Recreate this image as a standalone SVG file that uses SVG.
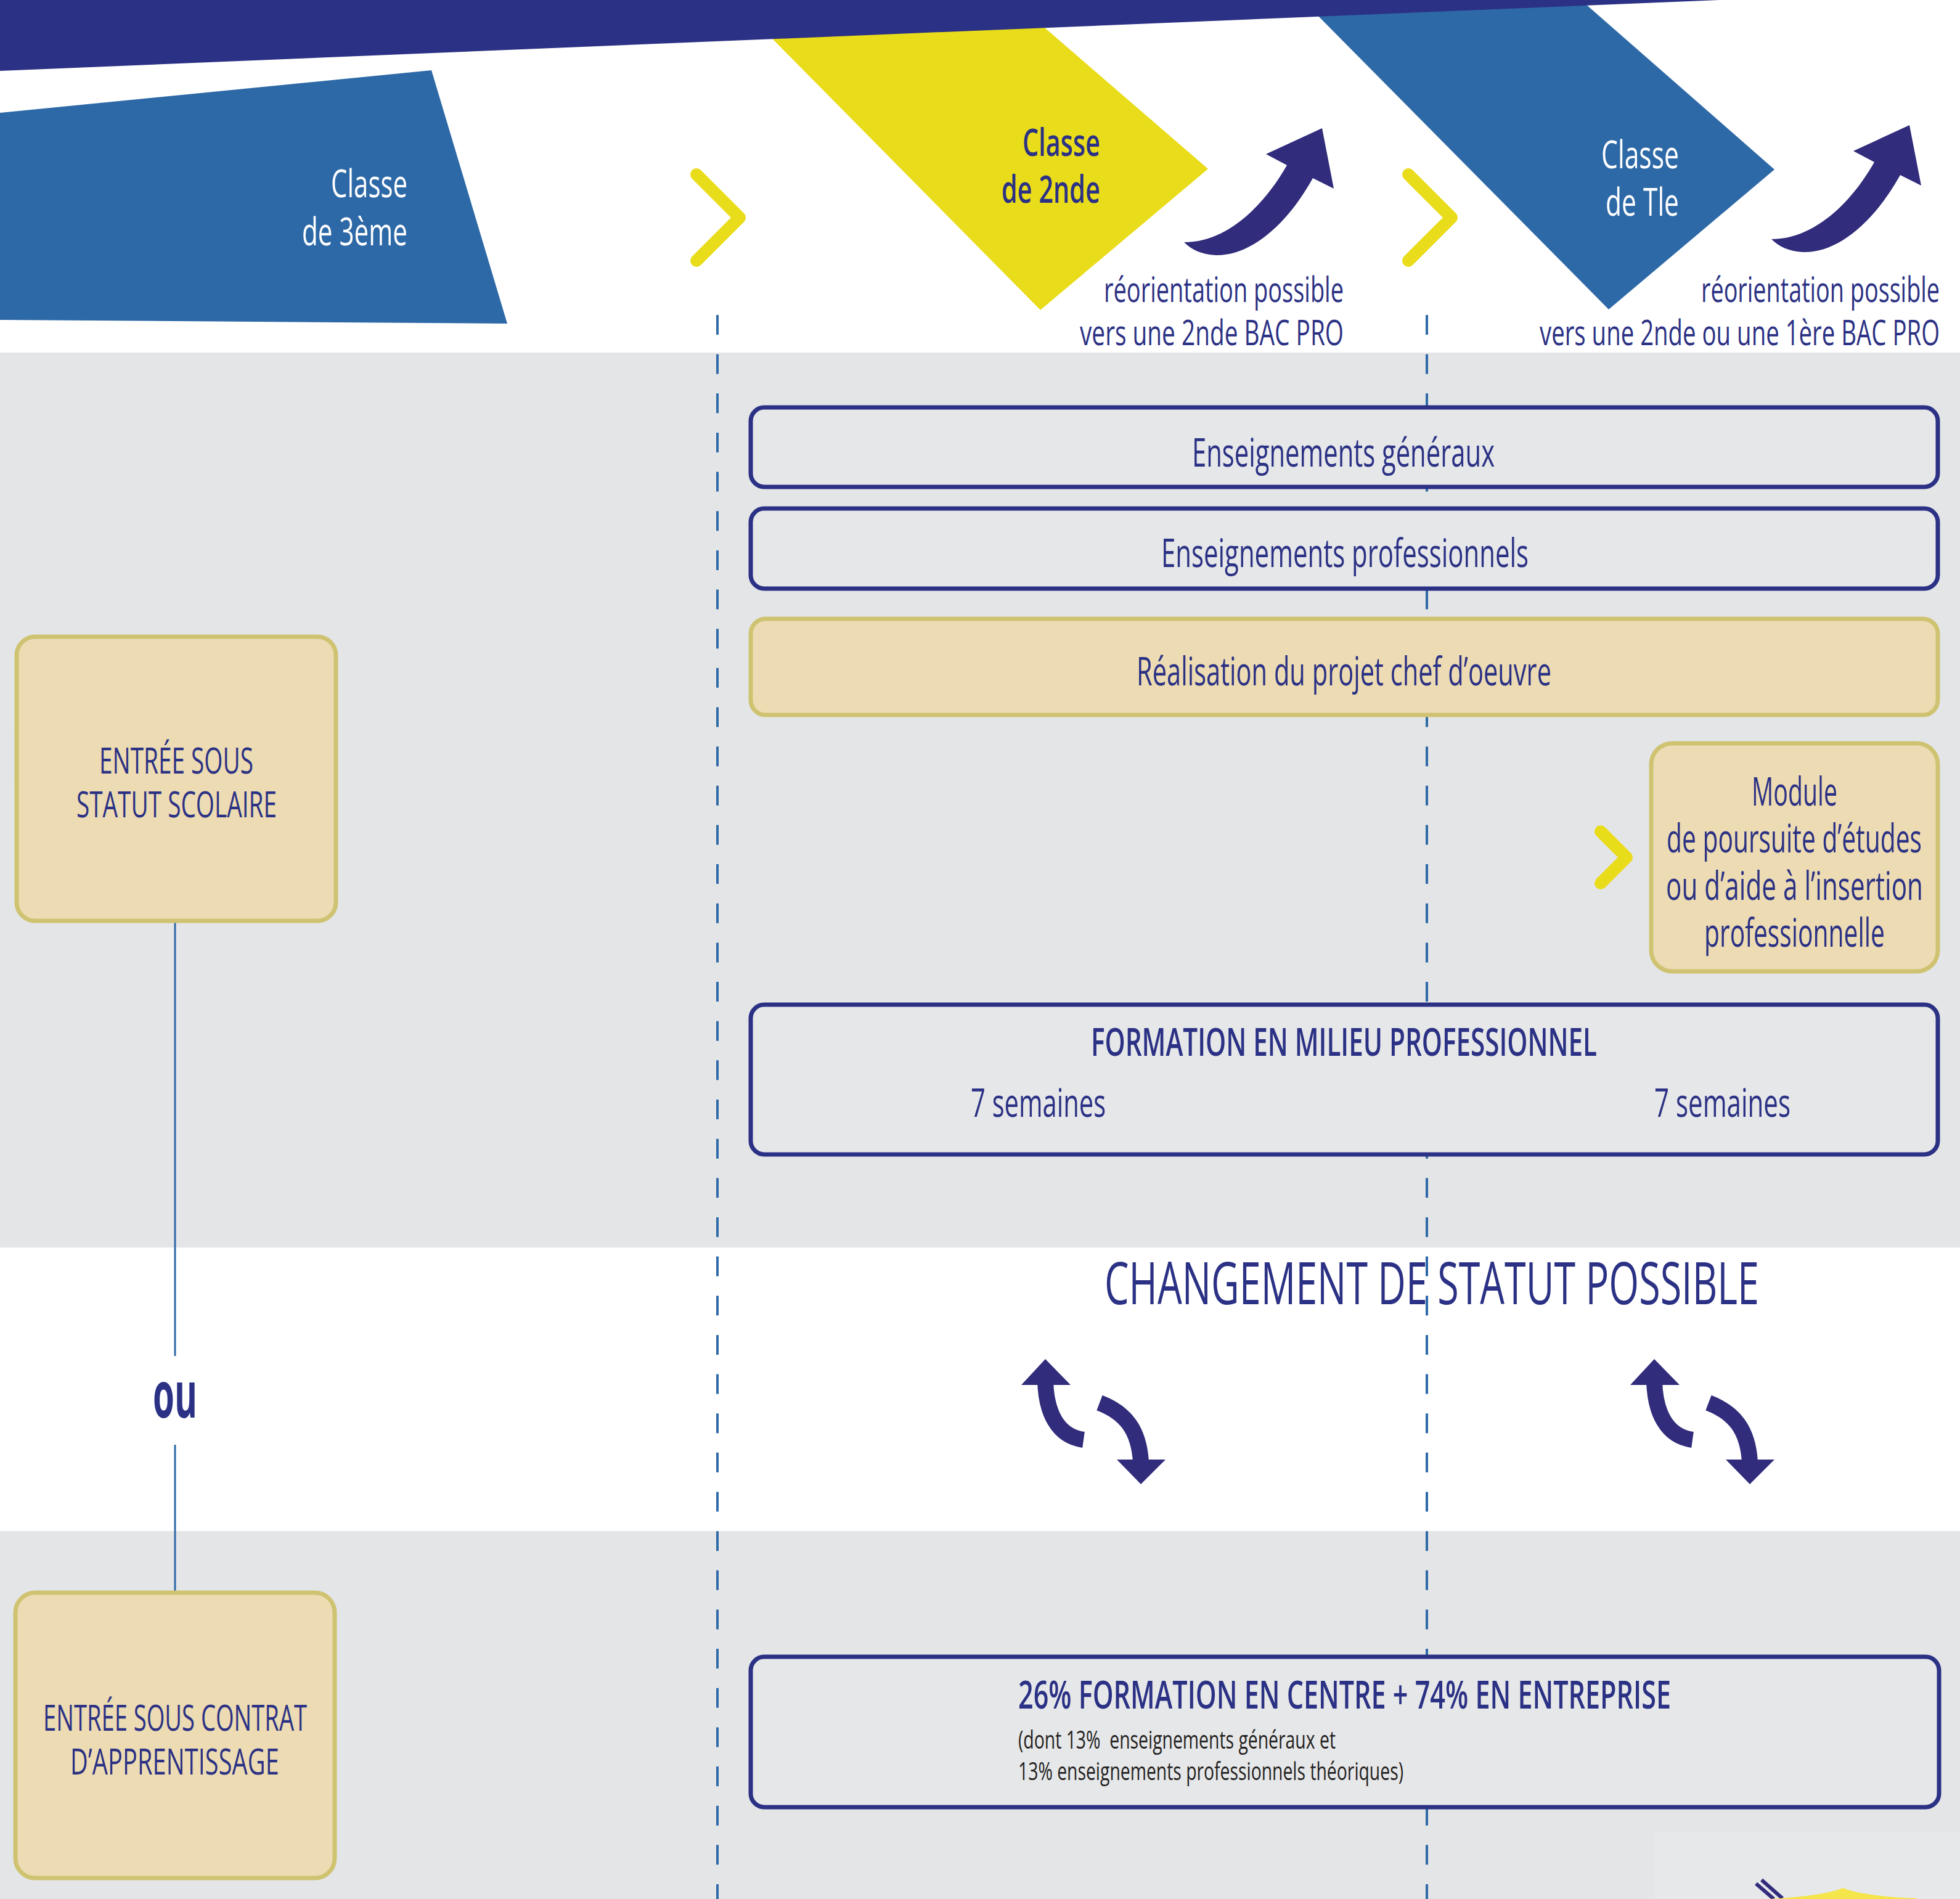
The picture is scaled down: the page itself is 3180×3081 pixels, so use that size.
<svg xmlns="http://www.w3.org/2000/svg" width="3180" height="3081" viewBox="0 0 3180 3081">
<style>
.t{font-family:"Open Sans","Liberation Sans",sans-serif;fill:#2b3184;}
.w{fill:#ffffff;}
.b{font-weight:600;}
.box{fill:#e6e7e9;stroke:#2b3184;stroke-width:7;}
.tan{fill:#ecdbb3;stroke:#cfc372;stroke-width:7;}
.chev{fill:none;stroke:#e9dc1b;stroke-width:20;stroke-linecap:round;stroke-linejoin:round;}
.dash{stroke:#2e6aa8;stroke-width:4;stroke-dasharray:32 31.65;fill:none;}
.arr{fill:#312c7b;}
.stem{fill:none;stroke:#312c7b;stroke-width:26;}
</style>
<defs>
<path id="bigArrow" d="M1921,393 C1990,393 2050,335 2088,268 L2054,250 L2145,208 L2164,306 L2130,289 C2085,370 2025,416 1972,414 C1950,413 1933,405 1921,393 Z"/>
<g id="swap">
<path class="stem" d="M1696,2240 C1697,2290 1715,2330 1758,2336"/>
<polygon class="arr" points="1696,2205 1737,2247 1657,2247"/>
<path class="stem" d="M1784,2276 C1826,2292 1848,2320 1851,2372"/>
<polygon class="arr" points="1812,2368 1891,2368 1851,2408"/>
</g>
</defs>
<rect width="3180" height="3081" fill="#ffffff"/>
<rect x="0" y="572" width="3180" height="1452" fill="#e4e5e7"/>
<rect x="0" y="2484" width="3180" height="597" fill="#e4e5e7"/>
<rect x="2685" y="2972" width="495" height="109" fill="#e7e8ea"/>

<g id="header">
<polygon points="0,183 700,114 823,525 0,519" fill="#2e69a7"/>
<polygon points="1191,0 1643,0 1960,274 1688,503" fill="#e9dc1b"/>
<polygon points="2113,0 2565,0 2879,275 2610,502" fill="#2e69a7"/>
<polygon points="0,0 2790,0 0,115" fill="#2b3184"/>
</g>

<g id="classe-3eme">
<text class="t w" x="537" y="320" font-size="62" textLength="124" lengthAdjust="spacingAndGlyphs">Classe</text>
<text class="t w" x="490" y="398" font-size="62" textLength="171" lengthAdjust="spacingAndGlyphs">de 3ème</text>
</g>
<g id="classe-2nde">
<text class="t b" x="1659" y="253" font-size="62" textLength="126" lengthAdjust="spacingAndGlyphs">Classe</text>
<text class="t b" x="1625" y="329" font-size="62" textLength="160" lengthAdjust="spacingAndGlyphs">de 2nde</text>
</g>
<g id="classe-tle">
<text class="t w" x="2598" y="273" font-size="62" textLength="126" lengthAdjust="spacingAndGlyphs">Classe</text>
<text class="t w" x="2605" y="350" font-size="62" textLength="119" lengthAdjust="spacingAndGlyphs">de Tle</text>
</g>
<g id="reorientation-1">
<text class="t" x="1791" y="490" font-size="56" textLength="389" lengthAdjust="spacingAndGlyphs">réorientation possible</text>
<text class="t" x="1752" y="560" font-size="56" textLength="428" lengthAdjust="spacingAndGlyphs">vers une 2nde BAC PRO</text>
</g>
<g id="reorientation-2">
<text class="t" x="2760" y="490" font-size="56" textLength="387" lengthAdjust="spacingAndGlyphs">réorientation possible</text>
<text class="t" x="2498" y="560" font-size="56" textLength="649" lengthAdjust="spacingAndGlyphs">vers une 2nde ou une 1ère BAC PRO</text>
</g>

<g id="timeline">
<line class="dash" x1="1164" y1="511" x2="1164" y2="3081"/>
<line class="dash" x1="2315" y1="511" x2="2315" y2="3081"/>
</g>

<g id="connectors">
<use href="#bigArrow" class="arr"/>
<use href="#bigArrow" class="arr" transform="translate(953,-5)"/>
<polyline class="chev" points="1130,283 1200,353 1130,423"/>
<polyline class="chev" points="2285,283 2355,353 2285,423"/>
<polyline class="chev" points="2597,1349 2639,1391 2597,1433"/>
<line x1="284" y1="1497" x2="284" y2="2200" stroke="#2e6aa8" stroke-width="3"/>
<line x1="284" y1="2344" x2="284" y2="2581" stroke="#2e6aa8" stroke-width="3"/>
<use href="#swap"/>
<use href="#swap" transform="translate(988,0)"/>
</g>

<g id="enseignements-generaux">
<rect class="box" x="1218" y="661" width="1926" height="129" rx="22"/>
<text class="t" x="1934" y="757" font-size="64" textLength="491" lengthAdjust="spacingAndGlyphs">Enseignements généraux</text>
</g>
<g id="enseignements-professionnels">
<rect class="box" x="1218" y="825" width="1926" height="130" rx="22"/>
<text class="t" x="1884" y="920" font-size="64" textLength="596" lengthAdjust="spacingAndGlyphs">Enseignements professionnels</text>
</g>
<g id="chef-d-oeuvre">
<rect class="tan" x="1218" y="1004" width="1926" height="156" rx="24"/>
<text class="t" x="1844" y="1112" font-size="64" textLength="673" lengthAdjust="spacingAndGlyphs">Réalisation du projet chef d’oeuvre</text>
</g>
<g id="module">
<rect class="tan" x="2679" y="1206" width="465" height="370" rx="34"/>
<text class="t" x="2842" y="1307" font-size="64" textLength="139" lengthAdjust="spacingAndGlyphs">Module</text>
<text class="t" x="2704" y="1383" font-size="64" textLength="414" lengthAdjust="spacingAndGlyphs">de poursuite d’études</text>
<text class="t" x="2703" y="1460" font-size="64" textLength="417" lengthAdjust="spacingAndGlyphs">ou d’aide à l’insertion</text>
<text class="t" x="2765" y="1536" font-size="64" textLength="293" lengthAdjust="spacingAndGlyphs">professionnelle</text>
</g>
<g id="formation-milieu-pro">
<rect class="box" x="1218" y="1630" width="1926" height="243" rx="22"/>
<text class="t b" x="1770" y="1713" font-size="64" textLength="821" lengthAdjust="spacingAndGlyphs">FORMATION EN MILIEU PROFESSIONNEL</text>
<text class="t" x="1575" y="1812" font-size="64" textLength="219" lengthAdjust="spacingAndGlyphs">7 semaines</text>
<text class="t" x="2684" y="1812" font-size="64" textLength="221" lengthAdjust="spacingAndGlyphs">7 semaines</text>
</g>
<g id="changement-statut">
<text class="t" x="1792" y="2116" font-size="96" textLength="1062" lengthAdjust="spacingAndGlyphs">CHANGEMENT DE STATUT POSSIBLE</text>
</g>
<g id="entree-scolaire">
<rect class="tan" x="27" y="1033" width="518" height="461" rx="30"/>
<text class="t" x="161" y="1255" font-size="58" textLength="250" lengthAdjust="spacingAndGlyphs">ENTRÉE SOUS</text>
<text class="t" x="124" y="1326" font-size="58" textLength="325" lengthAdjust="spacingAndGlyphs">STATUT SCOLAIRE</text>
</g>
<g id="ou">
<text class="t" x="248" y="2300" font-size="104" font-weight="bold" textLength="72" lengthAdjust="spacingAndGlyphs">ou</text>
</g>
<g id="entree-apprentissage">
<rect class="tan" x="25" y="2584" width="518" height="463" rx="32"/>
<text class="t" x="70" y="2808" font-size="58" textLength="428" lengthAdjust="spacingAndGlyphs">ENTRÉE SOUS CONTRAT</text>
<text class="t" x="114" y="2879" font-size="58" textLength="339" lengthAdjust="spacingAndGlyphs">D’APPRENTISSAGE</text>
</g>
<g id="apprentissage-repartition">
<rect class="box" x="1218" y="2688" width="1928" height="244" rx="22"/>
<text class="t b" x="1652" y="2772" font-size="64" textLength="1059" lengthAdjust="spacingAndGlyphs">26% FORMATION EN CENTRE + 74% EN ENTREPRISE</text>
<text class="t" xml:space="preserve" x="1652" y="2837" font-size="40" fill="#231f20" style="fill:#231f20" textLength="515" lengthAdjust="spacingAndGlyphs">(dont 13%  enseignements généraux et</text>
<text class="t" x="1652" y="2888" font-size="40" style="fill:#231f20" textLength="625" lengthAdjust="spacingAndGlyphs">13% enseignements professionnels théoriques)</text>
</g>

<g id="logo-fragment">
<line x1="2849" y1="3056" x2="2878" y2="3081" stroke="#312c7b" stroke-width="6"/>
<line x1="2858" y1="3050" x2="2892" y2="3080" stroke="#312c7b" stroke-width="6"/>
<path d="M2870,3081 Q2960,3076 2990,3063 Q3020,3076 3110,3080 L3110,3081 Z" fill="#f3e54a"/>
</g>
</svg>
